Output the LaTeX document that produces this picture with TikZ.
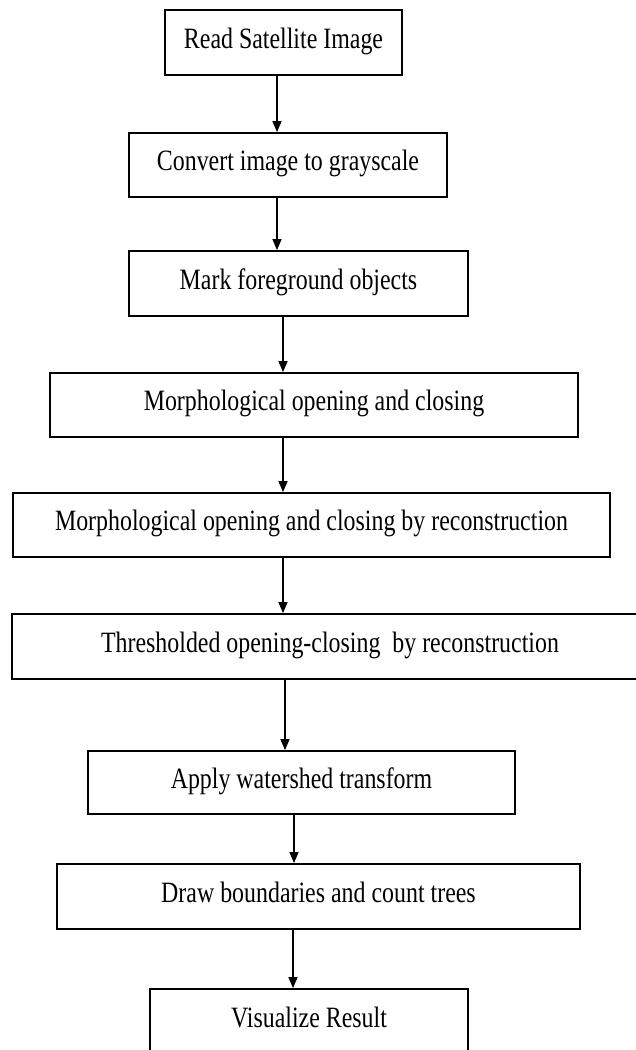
\documentclass[tikz,border=0pt]{standalone}
\usepackage{fontspec}
\setmainfont{Liberation Serif}[FakeStretch=0.81]
\usetikzlibrary{arrows.meta}
\begin{document}
\begin{tikzpicture}[x=1pt,y=-1pt,
  stepbox/.style={draw=black,line width=1.8pt,inner sep=0pt,
    text height=20pt,text depth=9pt,font=\fontsize{29.5}{34}\selectfont},
  arr/.style={line width=1.4pt,-{Triangle[width=9pt,length=11pt]}}]
\useasboundingbox (0,0) rectangle (635,1050);
\node[stepbox,minimum width=237pt,minimum height=65pt] (n1) at (283.5,42.5) {Read Satellite Image};
\node[stepbox,minimum width=318pt,minimum height=64pt] (n2) at (288,165) {Convert image to grayscale};
\node[stepbox,minimum width=339pt,minimum height=65pt] (n3) at (298.5,283.5) {Mark foreground objects};
\node[stepbox,minimum width=528pt,minimum height=64pt] (n4) at (314,405) {Morphological opening and closing};
\node[stepbox,minimum width=597pt,minimum height=64pt] (n5) at (311.5,525) {Morphological opening and closing by reconstruction};
\node[stepbox,minimum width=636pt,minimum height=65pt] (n6) at (330,646.5) {Thresholded opening-closing\ \ by reconstruction};
\node[stepbox,minimum width=427pt,minimum height=63pt] (n7) at (301.5,782.5) {Apply watershed transform};
\node[stepbox,minimum width=523pt,minimum height=65pt] (n8) at (318.5,896.5) {Draw boundaries and count trees};
\node[stepbox,minimum width=318pt,minimum height=65pt] (n9) at (309,1021.5) {Visualize Result};
\draw[arr] (n1.south -| 277,0) -- (n2.north -| 277,0);
\draw[arr] (n2.south -| 277,0) -- (n3.north -| 277,0);
\draw[arr] (n3.south -| 283,0) -- (n4.north -| 283,0);
\draw[arr] (n4.south -| 283,0) -- (n5.north -| 283,0);
\draw[arr] (n5.south -| 283,0) -- (n6.north -| 283,0);
\draw[arr] (n6.south -| 285,0) -- (n7.north -| 285,0);
\draw[arr] (n7.south -| 294,0) -- (n8.north -| 294,0);
\draw[arr] (n8.south -| 293,0) -- (n9.north -| 293,0);
\end{tikzpicture}
\end{document}
